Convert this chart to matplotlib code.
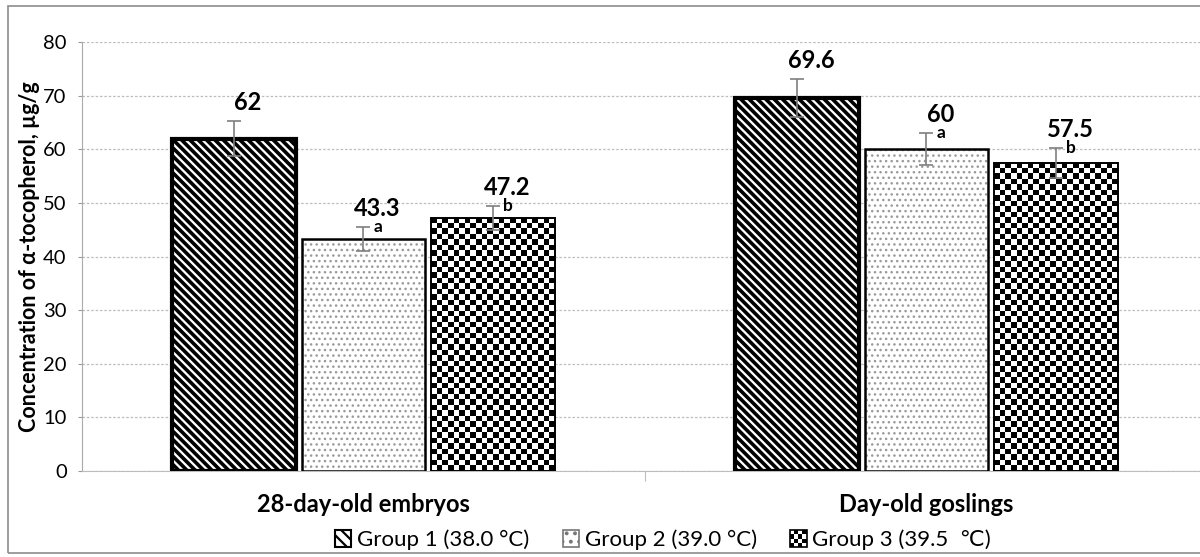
import numpy as np
import matplotlib
matplotlib.use("Agg")
import matplotlib.pyplot as plt
from matplotlib.patches import Rectangle, Patch
from matplotlib.legend_handler import HandlerBase

plt.rcParams['font.family'] = ['Lato', 'DejaVu Sans']

# data
categories = ["28-day-old embryos", "Day-old goslings"]
groups = ["Group 1 (38.0 °C)", "Group 2 (39.0 °C)", "Group 3 (39.5  ℃)"]
values = [[62, 69.6], [43.3, 60], [47.2, 57.5]]
errors = [[3.2, 3.5], [2.2, 3.0], [2.3, 2.8]]
value_labels = [["62", "69.6"], ["43.3", "60"], ["47.2", "57.5"]]
letters = [["", ""], ["a", "a"], ["b", "b"]]
yticks = [0, 10, 20, 30, 40, 50, 60, 70, 80]

fig = plt.figure(figsize=(12, 5.57), dpi=100)
ax = fig.add_axes([82 / 1200, 1 - 471 / 557, 1 - 82 / 1200, (471 - 42) / 557])

# frame around the whole chart
fig.patches.append(Rectangle((8 / 1200, 4 / 557), 1.2, 1 - 10 / 557,
                             transform=fig.transFigure, fill=False,
                             edgecolor='#8c8c8c', lw=1.2))

x = np.arange(len(categories))
width = 0.219
step = 0.230
ax.set_xlim(-0.5, 1.486)
ax.set_ylim(0, 80)

edge_lw = [3.0, 1.8, 1.4]
hatches = ['\\\\\\\\', '...', None]
hatch_cols = ['black', '#9a9a9a', 'black']
hatch_lw = [2.6, 1.0, 1.0]

bars_all = []
for i in range(3):
    xs = x + (i - 1) * step
    plt.rcParams['hatch.linewidth'] = hatch_lw[i]
    under = ax.bar(xs, values[i], width, color='white', edgecolor=hatch_cols[i],
                   linewidth=0, hatch=hatches[i], zorder=2)
    top = ax.bar(xs, values[i], width, facecolor='none', edgecolor='black',
                 linewidth=edge_lw[i], zorder=4)
    bars_all.append(top)
    ax.errorbar(xs, values[i], yerr=errors[i], fmt='none', ecolor='#7f7f7f',
                elinewidth=1.2, capsize=5, capthick=1.2, zorder=5)
    for j in range(len(categories)):
        top_err = values[i][j] + errors[i][j]
        ax.text(xs[j] + 0.025, top_err + 1.3, value_labels[i][j], ha='center',
                va='bottom', fontsize=17, fontweight='bold', zorder=6)
        if letters[i][j]:
            ax.text(xs[j] + 0.018, top_err, letters[i][j], ha='left', va='center',
                    fontsize=12.5, fontweight='bold', zorder=6)

# checkerboard fill for group 3 (no such hatch in matplotlib)
cell = 5.5
for rect in bars_all[2]:
    x0, w, h = rect.get_x(), rect.get_width(), rect.get_height()
    p0 = ax.transData.transform((x0, 0))
    p1 = ax.transData.transform((x0 + w, h))
    nx = int(round((p1[0] - p0[0]) / cell))
    ny = int(round((p1[1] - p0[1]) / cell))
    board = np.add.outer(np.arange(ny), np.arange(nx)) % 2
    im = ax.imshow(board, cmap='gray', extent=(x0, x0 + w, 0, h), aspect='auto',
                   interpolation='nearest', zorder=3)
    im.set_clip_path(rect)
ax.set_xlim(-0.5, 1.486)
ax.set_ylim(0, 80)

# axes styling
ax.set_yticks(yticks)
ax.tick_params(axis='y', labelsize=14.5, length=3, color='#999999', pad=8)
ax.yaxis.grid(True, linestyle=(0, (2, 1.5)), color='#bdbdbd', lw=0.9)
ax.set_axisbelow(True)
for s in ['top', 'right']:
    ax.spines[s].set_visible(False)
ax.spines['left'].set_color('#aaaaaa')
ax.spines['left'].set_linestyle((0, (1.5, 1)))
ax.spines['bottom'].set_color('#bdbdbd')
ax.set_xticks([0.5])
ax.set_xticklabels([''])
ax.tick_params(axis='x', length=7, color='#bdbdbd')
for j, c in enumerate(categories):
    ax.text(x[j], -6.2, c, ha='center', va='center', fontsize=17,
            fontweight='bold', transform=ax.transData)

ax.set_ylabel("Concentration of α-tocopherol, µg/g", fontsize=15.5,
              fontweight='bold', labelpad=2)


class CheckerHandler(HandlerBase):
    def create_artists(self, legend, orig_handle, xdescent, ydescent,
                       width, height, fontsize, trans):
        n = 4
        s = min(width, height)
        arts = [Rectangle((-xdescent, -ydescent), s, s, facecolor='white',
                          edgecolor='black', lw=1.2, transform=trans)]
        for r in range(n):
            for c in range(n):
                if (r + c) % 2 == 0:
                    arts.append(Rectangle((-xdescent + c * s / n, -ydescent + r * s / n),
                                          s / n, s / n, facecolor='black', lw=0,
                                          transform=trans))
        return arts


plt.rcParams['hatch.linewidth'] = 1.6
checker_handle = Patch(facecolor='white', edgecolor='black')
handles = [Patch(facecolor='white', edgecolor='black', hatch='\\\\\\', lw=1.5),
           Patch(facecolor='white', edgecolor='#777777', hatch='..', lw=1.2),
           checker_handle]
fig.legend(handles, groups, loc='center', bbox_to_anchor=(663 / 1200, 1 - 540 / 557),
           ncol=3, frameon=False, fontsize=16, handlelength=0.75,
           handleheight=0.75, handletextpad=0.25, columnspacing=1.5,
           handler_map={checker_handle: CheckerHandler()})

fig.savefig("out.png", dpi=100)
